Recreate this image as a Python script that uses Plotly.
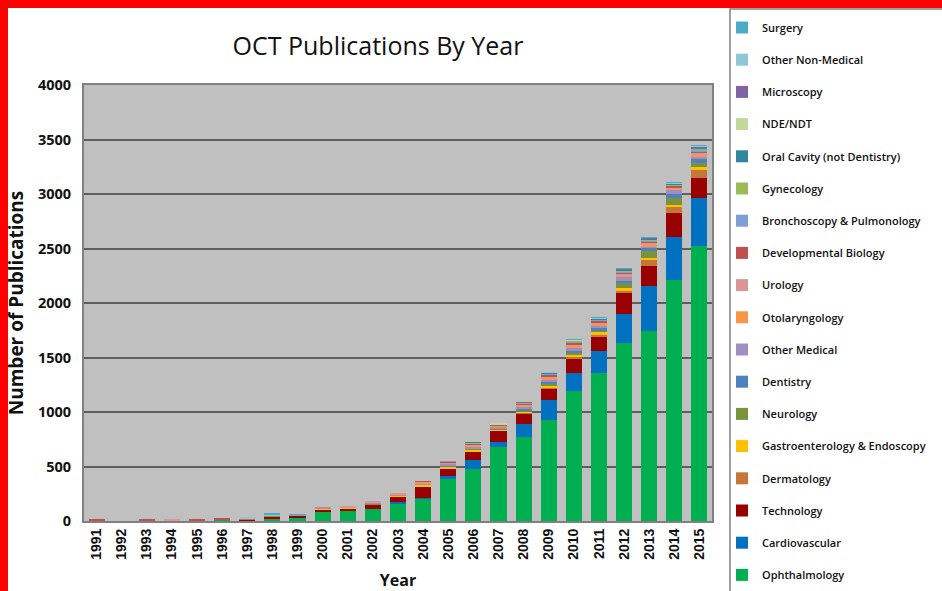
import plotly.graph_objects as go

years = [str(y) for y in range(1991, 2016)]

# stacked from the bottom up (same order as the legend, reversed)
ophthalmology = [0, 0, 0, 0, 0, 10, 5, 25, 34, 80, 92, 107, 162, 202, 385, 474, 682, 768, 927, 1195, 1361, 1636, 1746, 2211, 2523]
cardiovascular = [0, 0, 0, 0, 0, 0, 0, 0, 0, 0, 0, 0, 15, 6, 28, 86, 40, 122, 183, 160, 201, 260, 413, 397, 443]
technology = [0, 0, 0, 0, 0, 5, 8, 15, 12, 27, 21, 40, 46, 107, 70, 76, 104, 98, 107, 138, 135, 193, 183, 215, 181]
dermatology = [0, 0, 0, 0, 0, 0, 10, 8, 2, 3, 3, 3, 3, 5, 3, 3, 3, 5, 8, 10, 12, 21, 52, 60, 73]
gastro = [0, 0, 0, 0, 0, 0, 0, 0, 0, 3, 4, 4, 8, 12, 10, 14, 12, 15, 18, 22, 22, 25, 22, 16, 25]
neurology = [0, 0, 0, 0, 0, 0, 0, 0, 0, 0, 0, 2, 2, 4, 5, 8, 6, 10, 15, 18, 20, 46, 61, 67, 37]
dentistry = [0, 0, 0, 0, 0, 0, 0, 3, 0, 0, 0, 2, 2, 3, 3, 6, 6, 10, 15, 18, 18, 21, 25, 31, 36]
other_medical = [0, 0, 0, 8, 0, 0, 0, 0, 8, 13, 0, 12, 5, 8, 20, 15, 12, 18, 25, 28, 25, 39, 20, 40, 20]
otolaryngology = [0, 0, 0, 0, 0, 0, 0, 0, 3, 0, 5, 4, 5, 10, 8, 10, 8, 12, 16, 18, 15, 15, 18, 15, 25]
urology = [6, 0, 1, 5, 1, 0, 0, 0, 0, 0, 6, 3, 3, 6, 6, 10, 6, 10, 14, 15, 14, 14, 12, 10, 15]
dev_biology = [8, 0, 12, 0, 14, 6, 0, 0, 0, 0, 0, 0, 0, 4, 4, 8, 5, 8, 12, 14, 12, 12, 12, 12, 15]
bronchoscopy = [0, 0, 0, 0, 0, 0, 0, 0, 0, 0, 0, 0, 0, 0, 2, 5, 3, 6, 10, 12, 10, 10, 10, 8, 12]
gynecology = [0, 0, 0, 0, 0, 0, 0, 0, 0, 0, 0, 0, 0, 0, 0, 2, 1, 3, 5, 6, 6, 7, 8, 6, 10]
oral_cavity = [0, 0, 0, 0, 0, 0, 0, 0, 0, 0, 0, 0, 0, 0, 0, 1, 1, 2, 4, 5, 5, 6, 6, 5, 8]
nde_ndt = [0, 0, 0, 0, 0, 0, 0, 0, 0, 0, 0, 0, 0, 0, 0, 0, 1, 1, 3, 4, 4, 5, 5, 4, 8]
microscopy = [0, 0, 0, 0, 0, 0, 0, 0, 0, 0, 0, 0, 0, 0, 0, 0, 0, 1, 1, 2, 2, 4, 4, 3, 6]
other_non_medical = [0, 0, 0, 0, 0, 0, 5, 10, 0, 0, 0, 0, 0, 0, 0, 0, 0, 0, 1, 1, 2, 2, 3, 2, 6]
surgery = [0, 0, 0, 0, 0, 0, 0, 6, 2, 0, 0, 0, 0, 0, 0, 0, 0, 0, 0, 1, 1, 2, 3, 2, 6]

series = [
    ("Ophthalmology", ophthalmology, "#00B050"),
    ("Cardiovascular", cardiovascular, "#0070C0"),
    ("Technology", technology, "#990000"),
    ("Dermatology", dermatology, "#C5773A"),
    ("Gastroenterology & Endoscopy", gastro, "#FFC000"),
    ("Neurology", neurology, "#77933C"),
    ("Dentistry", dentistry, "#4F81BD"),
    ("Other Medical", other_medical, "#A08EC2"),
    ("Otolaryngology", otolaryngology, "#F79646"),
    ("Urology", urology, "#D99694"),
    ("Developmental Biology", dev_biology, "#C0504D"),
    ("Bronchoscopy & Pulmonology", bronchoscopy, "#7F9ED3"),
    ("Gynecology", gynecology, "#9BBB59"),
    ("Oral Cavity (not Dentistry)", oral_cavity, "#31859C"),
    ("NDE/NDT", nde_ndt, "#C3D69B"),
    ("Microscopy", microscopy, "#8064A2"),
    ("Other Non-Medical", other_non_medical, "#8CC8DA"),
    ("Surgery", surgery, "#4BACC6"),
]

fig = go.Figure()
for i, (name, vals, col) in enumerate(series):
    fig.add_trace(go.Bar(x=years, y=vals, name=name, marker_color=col,
                         marker_line_width=0, legendgroup='g%d' % i,
                         legendrank=100 - i))

# plot area is 84..712 x 85..521 px
W, H = 942, 591
L, R, T, B = 84, 230, 85, 70
pw = W - L - R
ph = H - T - B

def px_x(x):
    return (x - L) / pw

def px_y(y):
    return (H - B - y) / ph

shapes = [
    # legend box
    dict(type='rect', xref='paper', yref='paper', x0=px_x(730), x1=px_x(945),
         y0=px_y(595), y1=px_y(9), line=dict(color='#808080', width=1.5),
         fillcolor='white', layer='below'),
    # red frame (top and left)
    dict(type='rect', xref='paper', yref='paper', x0=px_x(-2), x1=px_x(945),
         y0=px_y(8), y1=px_y(-2), line=dict(width=0), fillcolor='#FF0000'),
    dict(type='rect', xref='paper', yref='paper', x0=px_x(-2), x1=px_x(8),
         y0=px_y(595), y1=px_y(-2), line=dict(width=0), fillcolor='#FF0000'),
]

fig.update_layout(
    width=W, height=H,
    margin=dict(l=L, r=R, t=T, b=B, autoexpand=False),
    paper_bgcolor='white',
    plot_bgcolor='#C0C0C0',
    barmode='stack',
    bargap=0.36,
    title=dict(text='OCT Publications By Year', x=378 / W, xanchor='center',
               y=1 - 46 / H, yanchor='middle',
               font=dict(family='Open Sans', size=25, color='#111111')),
    xaxis=dict(
        tickangle=-90, automargin=False,
        tickfont=dict(family='Liberation Sans', size=14, color='#111111', weight='bold'),
        showline=True, mirror=True, linecolor='#808080', linewidth=2,
        ticks='',
        title=dict(text='Year', standoff=16,
                   font=dict(family='Open Sans', size=16, color='#111111', weight='bold')),
    ),
    yaxis=dict(
        range=[0, 4000], dtick=500, automargin=False,
        tickfont=dict(family='Open Sans', size=14.5, color='#111111', weight='bold'),
        gridcolor='#5E5E5E', gridwidth=1.6,
        showline=True, mirror=True, linecolor='#808080', linewidth=2,
        zeroline=False, ticks='', ticklabelstandoff=8,
        title=dict(text='Number of Publications', standoff=9,
                   font=dict(family='Open Sans', size=19, color='#111111', weight='bold')),
    ),
    legend=dict(
        xref='container', yref='container',
        x=722 / W, xanchor='left', y=1 - 13 / H, yanchor='top',
        traceorder='grouped', tracegroupgap=13.2, maxheight=1,
        font=dict(family='Open Sans', size=11, color='#111111', weight=600),
        bgcolor='rgba(0,0,0,0)', itemwidth=30,
    ),
    shapes=shapes,
)

# the page body has a default 8px margin; drop it so the figure sits at 0,0
fig.write_html("out.html", config={'displayModeBar': False},
               post_script="document.body.style.margin='0px';")
